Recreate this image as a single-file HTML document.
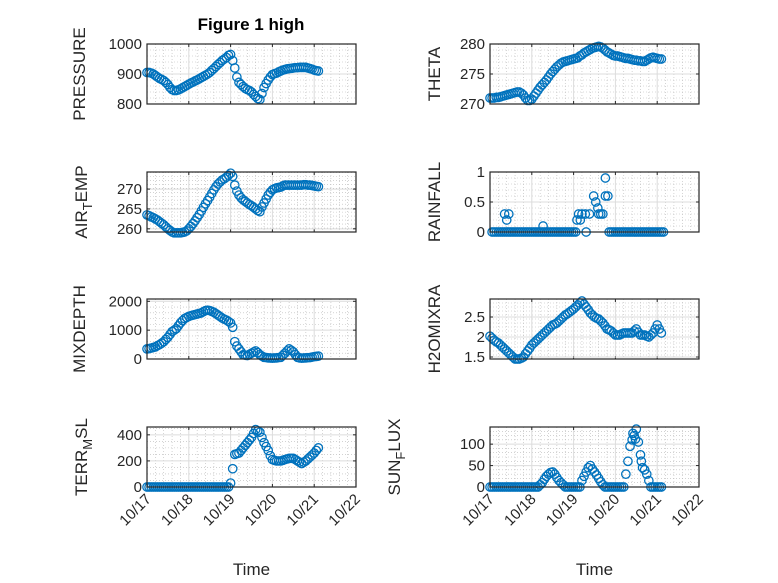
<!DOCTYPE html>
<html><head><meta charset="utf-8"><style>
html,body{margin:0;padding:0;background:#fff;}
svg{display:block;font-family:"Liberation Sans",sans-serif;}
</style></head><body>
<svg id="fig" width="778" height="583" viewBox="0 0 778 583" xmlns="http://www.w3.org/2000/svg">
<rect x="0" y="0" width="778" height="583" fill="#fff"/>
<text x="251" y="30" text-anchor="middle" font-size="17" font-weight="bold" fill="#000">Figure 1 high</text>
</svg>
<script>
// time in days since 10/17 00:00, samples every 0.05 day
const dayTicks = [0,1,2,3,4,5];
const dayLabels = ["10/17","10/18","10/19","10/20","10/21","10/22"];
const pressure = [905,905,903,900,895,890,885,882,878,872,865,855,848,845,845,847,850,854,858,862,866,870,873,877,880,884,888,892,896,900,905,912,918,925,932,938,945,950,955,962,965,945,920,890,872,865,858,852,848,845,840,832,825,818,815,835,855,868,880,890,898,901,903,907,910,913,915,917,918,919,920,921,921,922,922,922,922,920,918,916,913,911,910];
const airTemp = [263.5,263.3,263,262.8,262.5,262.2,261.8,261.4,261,260.5,260,259.6,259.2,259,259,259,259,259.1,259.2,259.5,260,260.6,261.3,262,262.8,263.6,264.5,265.4,266.3,267.1,268,268.9,269.8,270.6,271.3,271.8,272.3,272.6,273,273.5,274,273.2,271,269.5,268.5,267.8,267.3,266.9,266.5,266.1,265.8,265.4,265,264.6,264.3,265.5,266.5,267.5,268.5,269.2,269.8,270.1,270.3,270.4,270.5,270.8,271,271,271,271,271,271,271,271,271,271.1,271.1,271,271,270.9,270.8,270.7,270.6];
const mixDepth = [350,360,380,400,420,460,500,550,600,680,750,850,950,1000,1050,1150,1250,1330,1400,1440,1480,1500,1520,1540,1560,1580,1600,1640,1680,1690,1680,1650,1620,1570,1520,1470,1420,1380,1350,1300,1250,1100,600,450,350,250,150,130,120,160,200,240,280,220,150,100,60,50,40,35,30,35,40,50,60,130,200,280,350,300,250,150,60,40,30,35,40,45,50,65,80,90,100];
const terrMsl = [0,0,0,0,0,0,0,0,0,0,0,0,0,0,0,0,0,0,0,0,0,0,0,0,0,0,0,0,0,0,0,0,0,0,0,0,0,0,0,0,30,140,250,255,260,280,300,320,340,360,380,410,440,430,420,380,340,310,280,240,210,205,200,200,200,205,210,215,220,220,220,210,200,190,180,190,200,215,230,245,260,280,300];
const theta = [271,271,271,271.1,271.1,271.2,271.3,271.4,271.5,271.6,271.7,271.8,271.9,272,272,271.8,271.5,271,270.6,270.6,270.8,271.3,271.8,272.3,272.8,273.2,273.6,274,274.5,275,275.4,275.8,276.2,276.5,276.8,277,277.1,277.2,277.3,277.4,277.5,277.6,277.7,278,278.2,278.5,278.7,278.9,279.1,279.3,279.4,279.5,279.6,279.5,279.3,279,278.7,278.5,278.3,278.1,278,278,277.9,277.8,277.7,277.6,277.6,277.5,277.4,277.3,277.3,277.2,277.2,277.1,277.1,277.3,277.5,277.7,277.8,277.7,277.6,277.5,277.5];
const h2oMix = [2.02,1.97,1.92,1.88,1.85,1.8,1.75,1.7,1.65,1.6,1.55,1.5,1.45,1.45,1.45,1.47,1.5,1.58,1.65,1.72,1.8,1.85,1.9,1.95,2.0,2.05,2.1,2.15,2.2,2.25,2.3,2.32,2.35,2.4,2.45,2.5,2.55,2.58,2.62,2.66,2.7,2.75,2.8,2.85,2.9,2.82,2.75,2.68,2.6,2.55,2.5,2.47,2.45,2.4,2.35,2.28,2.2,2.18,2.15,2.1,2.05,2.05,2.05,2.08,2.1,2.1,2.1,2.1,2.1,2.15,2.2,2.12,2.05,2.05,2.05,2.02,2.0,2.05,2.1,2.2,2.3,2.2,2.1];
const rainGrid = [null,0,0,0,0,0,0,0,0,0,0,0,0,0,0,0,0,0,0,0,0,0,0,0,0,0,0,0,0,0,0,0,0,0,0,0,0,0,0,0,0,0,null,null,null,null,null,null,null,null,null,null,null,null,null,null,null,0,0,0,0,0,0,0,0,0,0,0,0,0,0,0,0,0,0,0,0,0,0,0,0,0,0,0];
const rainExtraTimes = [0.35,0.4,0.45,1.27,2.08,2.12,2.16,2.2,2.28,2.3,2.38,2.48,2.53,2.58,2.6,2.65,2.7,2.76,2.76,2.82];
const rainExtraValues = [0.3,0.2,0.3,0.1,0.2,0.3,0.2,0.3,0.3,0,0.3,0.6,0.5,0.4,0.3,0.3,0.3,0.9,0.6,0.6];
const sunFlux = [0,0,0,0,0,0,0,0,0,0,0,0,0,0,0,0,0,0,0,0,0,0,0,0,5,10,18,25,30,34,35,30,22,15,10,5,0,0,0,0,0,0,0,0,15,25,35,45,50,42,35,28,20,12,5,0,0,0,0,0,0,0,0,0,0,30,60,95,110,120,135,105,75,45,40,30,15,0,0,0,0,0,0];
const sunExtraTimes = [3.42,3.48,3.62];
const sunExtraValues = [125,112,60];

const NS="http://www.w3.org/2000/svg";
const svg=document.getElementById('fig');
function el(tag,attrs,parent){const e=document.createElementNS(NS,tag);for(const k in attrs)e.setAttribute(k,attrs[k]);(parent||svg).appendChild(e);return e;}
const seq=(arr)=>arr.map((_,i)=>i*0.05);

function panel(o){
  const g=el('g',{});
  
  
  const L=o.x0,R=o.x1,T=o.y0,B=o.y1;
  const sx=t=>L+(t-0)/5*(R-L);
  const sy=v=>B-(v-o.ymin)/(o.ymax-o.ymin)*(B-T);
  el('rect',{x:L,y:T,width:R-L,height:B-T,fill:'#fff'},g);
  for(let d=0;d<5;d++)for(let k=1;k<5;k++){const x=sx(d+k/5);
    el('line',{x1:x,x2:x,y1:T,y2:B,stroke:'#b8b8b8','stroke-width':0.6,'stroke-dasharray':'1,2'},g);}
  for(let v=o.ymin;v<=o.ymax+1e-9;v+=o.minor){ if(Math.abs((v/o.major)-Math.round(v/o.major))<1e-6)continue; const y=sy(v);
    el('line',{x1:L,x2:R,y1:y,y2:y,stroke:'#b8b8b8','stroke-width':0.6,'stroke-dasharray':'1,2'},g);}
  dayTicks.forEach(d=>{const x=sx(d);el('line',{x1:x,x2:x,y1:T,y2:B,stroke:'#dcdcdc','stroke-width':1},g);
    el('line',{x1:x,x2:x,y1:B,y2:B-3,stroke:'#262626'},g);el('line',{x1:x,x2:x,y1:T,y2:T+3,stroke:'#262626'},g);});
  o.ticks.forEach((v,i)=>{const y=sy(v);
    el('line',{x1:L,x2:R,y1:y,y2:y,stroke:'#dcdcdc','stroke-width':1},g);
    el('line',{x1:L,x2:L+3,y1:y,y2:y,stroke:'#262626'},g);el('line',{x1:R,x2:R-3,y1:y,y2:y,stroke:'#262626'},g);
    const t=el('text',{x:L-5,y:y+5,'text-anchor':'end','font-size':15,fill:'#262626'},g);
    
    
    t.textContent=o.tickLabels[i];});
  const mg=el('g',{fill:'none',stroke:'#0072BD','stroke-width':1.3},g);
  o.ts.forEach((t,i)=>{ if(o.vs[i]===null) return; const c=el('circle',{cx:sx(t),cy:sy(o.vs[i]),r:4.2},mg);
    
    });
  el('rect',{x:L,y:T,width:R-L,height:B-T,fill:'none',stroke:'#262626','stroke-width':1.2},g);
  const cy=(T+B)/2, lx=L-o.labOff;
  const yl=el('text',{x:lx,y:cy,transform:`rotate(-90 ${lx} ${cy})`,'text-anchor':'middle','font-size':17,fill:'#262626'},g);
  
  
  yl.innerHTML=o.label;
  if(o.xlabels){
    dayTicks.forEach((d,i)=>{const x=sx(d)+5,y=B+13;
      const t=el('text',{x:x,y:y,transform:`rotate(-45 ${x} ${y})`,'text-anchor':'end','font-size':15,fill:'#262626'},g);
      
      
      t.textContent=dayLabels[i];});
    const xt=el('text',{x:(L+R)/2,y:575,'text-anchor':'middle','font-size':17,fill:'#262626'},g);
    
    
    xt.textContent='Time';
  }
}
const LX0=147,LX1=356,RX0=490,RX1=699;
const sub=(a,s,b)=>`${a}<tspan dy="5" font-size="13">${s}</tspan><tspan dy="-5">${b}</tspan>`;
const rainTs=seq(rainGrid).concat(rainExtraTimes), rainVs=rainGrid.concat(rainExtraValues);
const sunTs=seq(sunFlux).concat(sunExtraTimes), sunVs=sunFlux.concat(sunExtraValues);
panel({name:'pressure',x0:LX0,x1:LX1,y0:44,y1:104,ymin:800,ymax:1000,major:100,minor:20,ticks:[800,900,1000],tickLabels:["800","900","1000"],ts:seq(pressure),vs:pressure,label:'PRESSURE',labOff:62});
panel({name:'air-temp',x0:LX0,x1:LX1,y0:172,y1:232,ymin:259.2,ymax:274.3,major:5,minor:1,ticks:[260,265,270],tickLabels:["260","265","270"],ts:seq(airTemp),vs:airTemp,label:sub('AIR','T','EMP'),labOff:60});
panel({name:'mixdepth',x0:LX0,x1:LX1,y0:299,y1:359,ymin:0,ymax:2080,major:1000,minor:200,ticks:[0,1000,2000],tickLabels:["0","1000","2000"],ts:seq(mixDepth),vs:mixDepth,label:'MIXDEPTH',labOff:62});
panel({name:'terr-msl',x0:LX0,x1:LX1,y0:427,y1:487,ymin:0,ymax:460,major:200,minor:50,ticks:[0,200,400],tickLabels:["0","200","400"],ts:seq(terrMsl),vs:terrMsl,label:sub('TERR','M','SL'),labOff:60,xlabels:true});
panel({name:'theta',x0:RX0,x1:RX1,y0:44,y1:104,ymin:270,ymax:280,major:5,minor:1,ticks:[270,275,280],tickLabels:["270","275","280"],ts:seq(theta),vs:theta,label:'THETA',labOff:50});
panel({name:'rainfall',x0:RX0,x1:RX1,y0:172,y1:232,ymin:0,ymax:1,major:0.5,minor:0.1,ticks:[0,0.5,1],tickLabels:["0","0.5","1"],ts:rainTs,vs:rainVs,label:'RAINFALL',labOff:50});
panel({name:'h2o-mix',x0:RX0,x1:RX1,y0:299,y1:359,ymin:1.45,ymax:2.95,major:0.5,minor:0.1,ticks:[1.5,2,2.5],tickLabels:["1.5","2","2.5"],ts:seq(h2oMix),vs:h2oMix,label:'H2OMIXRA',labOff:50});
panel({name:'sunflux',x0:RX0,x1:RX1,y0:427,y1:487,ymin:0,ymax:140,major:50,minor:10,ticks:[0,50,100],tickLabels:["0","50","100"],ts:sunTs,vs:sunVs,label:sub('SUN','F','LUX'),labOff:90,xlabels:true});
</script>
</body></html>
